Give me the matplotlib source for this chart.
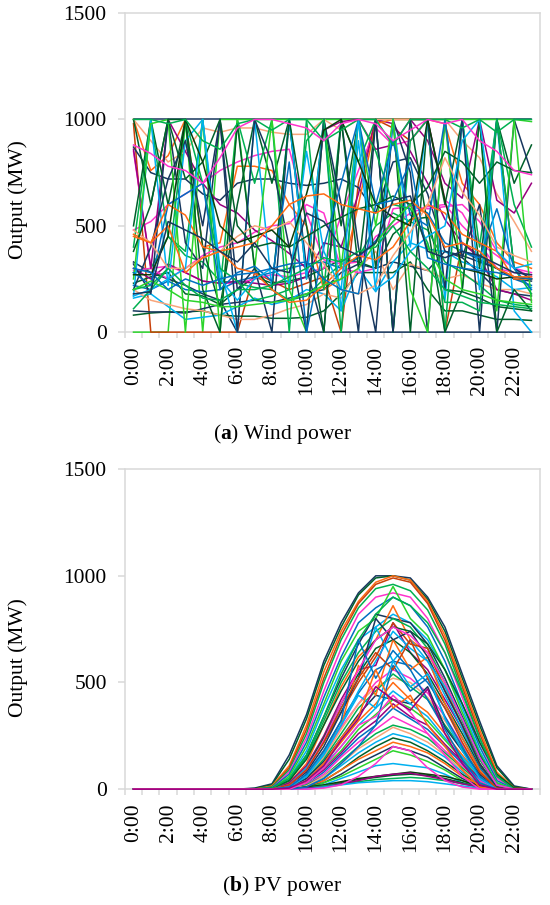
import numpy as np
import matplotlib.pyplot as plt

plt.rcParams['font.family'] = ['Liberation Serif', 'DejaVu Serif']
plt.rcParams['mathtext.fontset'] = 'custom'
plt.rcParams['mathtext.rm'] = 'Liberation Serif'
plt.rcParams['mathtext.bf'] = 'Liberation Serif:bold'

hours = [f'{h}:00' for h in range(24)]

# wind power output per scenario (MW), hours 0..23
wind = [
    [1000, 1000, 1000, 1000, 1000, 1000, 1000, 1000, 1000, 1000, 1000, 1000, 1000, 1000, 1000, 1000, 1000, 1000, 1000, 1000, 1000, 1000, 1000, 1000],
    [0, 0, 0, 1000, 0, 1000, 1000, 1000, 1000, 1000, 1000, 1000, 1000, 1000, 1000, 1000, 1000, 1000, 1000, 1000, 1000, 1000, 1000, 990],
    [980, 0, 0, 0, 0, 0, 0, 280, 240, 200, 230, 260, 0, 700, 1000, 960, 900, 1000, 0, 420, 360, 300, 260, 250],
    [330, 280, 250, 220, 180, 150, 0, 0, 0, 0, 0, 0, 0, 0, 0, 0, 0, 0, 0, 0, 0, 0, 0, 0],
    [80, 90, 95, 95, 100, 80, 75, 75, 65, 65, 70, 100, 180, 280, 280, 280, 330, 200, 100, 100, 80, 60, 60, 55],
    [100, 95, 95, 90, 110, 130, 140, 150, 140, 160, 180, 200, 280, 320, 300, 330, 310, 290, 380, 350, 280, 200, 180, 170],
    [160, 180, 120, 60, 70, 80, 120, 160, 130, 150, 200, 180, 100, 300, 190, 330, 420, 390, 380, 330, 300, 260, 200, 210],
    [200, 150, 130, 110, 100, 80, 60, 60, 80, 110, 130, 180, 160, 300, 380, 200, 320, 290, 250, 270, 230, 200, 200, 180],
    [230, 260, 280, 180, 170, 130, 200, 260, 230, 240, 260, 300, 340, 330, 300, 460, 530, 540, 200, 190, 160, 120, 110, 100],
    [280, 300, 450, 360, 330, 240, 230, 210, 200, 150, 170, 250, 320, 350, 500, 560, 520, 480, 330, 280, 220, 150, 130, 120],
    [290, 300, 310, 280, 240, 230, 230, 250, 270, 260, 280, 300, 550, 760, 960, 880, 900, 1000, 620, 560, 420, 300, 280, 270],
    [300, 250, 320, 280, 240, 230, 240, 230, 220, 230, 260, 420, 400, 650, 1000, 980, 850, 700, 530, 420, 350, 200, 180, 150],
    [220, 200, 240, 200, 190, 200, 240, 260, 280, 300, 320, 330, 300, 350, 430, 520, 600, 560, 420, 380, 340, 300, 250, 220],
    [870, 750, 720, 720, 650, 620, 700, 720, 720, 700, 690, 700, 720, 680, 560, 800, 820, 650, 380, 360, 330, 300, 250, 240],
    [1000, 760, 830, 1000, 400, 420, 780, 780, 760, 600, 500, 200, 250, 600, 980, 1000, 1000, 1000, 980, 700, 600, 420, 330, 300],
    [1000, 900, 800, 850, 960, 940, 960, 960, 940, 930, 930, 1000, 950, 1000, 1000, 1000, 1000, 1000, 1000, 900, 820, 650, 520, 380],
    [850, 300, 250, 300, 360, 400, 420, 470, 500, 510, 600, 560, 300, 280, 300, 580, 590, 580, 590, 600, 520, 380, 300, 280],
    [480, 520, 600, 650, 700, 760, 800, 830, 850, 860, 560, 340, 320, 330, 450, 500, 560, 590, 600, 500, 420, 360, 300, 260],
    [860, 300, 1000, 850, 700, 600, 560, 480, 430, 370, 300, 950, 990, 1000, 860, 880, 1000, 900, 700, 630, 1000, 620, 560, 700],
    [500, 1000, 600, 1000, 400, 120, 600, 1000, 700, 1000, 250, 1000, 500, 1000, 300, 1000, 0, 1000, 600, 1000, 300, 1000, 700, 880],
    [400, 1000, 450, 380, 1000, 200, 1000, 700, 1000, 0, 1000, 200, 1000, 800, 1000, 0, 900, 1000, 0, 1000, 400, 1000, 600, 400],
    [320, 180, 1000, 420, 300, 1000, 200, 300, 0, 1000, 300, 0, 1000, 400, 0, 1000, 750, 0, 1000, 350, 600, 0, 1000, 750],
    [170, 1000, 220, 900, 1000, 300, 0, 1000, 200, 1000, 250, 1000, 100, 900, 200, 1000, 400, 1000, 150, 1000, 200, 1000, 100, 0],
    [250, 980, 1000, 0, 1000, 0, 1000, 300, 1000, 200, 0, 1000, 300, 1000, 500, 1000, 200, 0, 1000, 200, 1000, 100, 1000, 140],
    [1000, 600, 1000, 1000, 200, 0, 980, 300, 200, 1000, 500, 0, 1000, 300, 1000, 0, 1000, 500, 0, 200, 1000, 0, 200, 100],
    [200, 400, 720, 900, 500, 1000, 0, 1000, 800, 400, 0, 1000, 600, 0, 1000, 0, 1000, 1000, 200, 1000, 0, 1000, 300, 250],
    [200, 220, 300, 1000, 700, 300, 240, 150, 170, 200, 900, 1000, 0, 1000, 850, 600, 580, 420, 140, 140, 100, 1000, 300, 180],
    [280, 220, 600, 650, 700, 200, 280, 310, 240, 800, 0, 400, 700, 1000, 600, 900, 550, 500, 1000, 380, 350, 580, 300, 200],
    [460, 420, 600, 550, 400, 380, 300, 280, 200, 140, 150, 220, 300, 360, 340, 400, 520, 600, 560, 460, 420, 380, 250, 250],
    [480, 420, 300, 300, 350, 380, 450, 500, 480, 520, 420, 320, 200, 180, 220, 360, 470, 600, 820, 660, 550, 400, 360, 330],
    [380, 600, 1000, 720, 800, 1000, 500, 400, 420, 400, 450, 500, 540, 580, 600, 640, 600, 680, 850, 800, 700, 800, 760, 750],
    [170, 200, 250, 300, 1000, 250, 150, 250, 300, 230, 850, 380, 200, 1000, 200, 260, 380, 450, 500, 900, 1000, 380, 300, 320],
    [270, 270, 450, 1000, 800, 500, 420, 450, 480, 400, 650, 950, 1000, 800, 600, 540, 500, 1000, 620, 300, 280, 250, 260, 250],
    [110, 200, 300, 220, 160, 150, 200, 200, 220, 260, 300, 350, 330, 380, 400, 500, 380, 300, 200, 170, 140, 130, 120, 110],
    [200, 240, 200, 150, 140, 120, 120, 130, 140, 150, 180, 220, 250, 300, 420, 520, 600, 400, 250, 200, 180, 150, 140, 130],
    [300, 280, 200, 250, 220, 250, 270, 280, 300, 320, 330, 250, 200, 180, 600, 620, 800, 350, 320, 300, 290, 280, 260, 250],
    [450, 420, 500, 280, 350, 380, 400, 420, 500, 600, 640, 650, 600, 580, 560, 600, 620, 550, 400, 420, 380, 300, 260, 260],
    [180, 190, 520, 480, 440, 380, 330, 420, 300, 280, 560, 520, 400, 360, 420, 620, 640, 380, 350, 380, 360, 320, 280, 270],
    [1000, 1000, 980, 1000, 900, 860, 980, 1000, 950, 1000, 1000, 900, 950, 1000, 1000, 880, 1000, 1000, 1000, 960, 1000, 940, 1000, 1000],
    [880, 840, 780, 760, 700, 820, 960, 1000, 1000, 980, 960, 900, 980, 1000, 980, 900, 950, 1000, 980, 1000, 900, 850, 760, 740],
]

# PV output per scenario (MW), hours 0..23
pv = [
    [0, 0, 0, 0, 0, 0, 0, 5, 25, 160, 350, 600, 780, 920, 1000, 1000, 990, 900, 760, 540, 320, 110, 15, 0],
    [0, 0, 0, 0, 0, 0, 0, 3, 20, 140, 330, 580, 760, 910, 990, 1000, 980, 890, 740, 520, 300, 100, 10, 0],
    [0, 0, 0, 0, 0, 0, 0, 0, 15, 110, 300, 550, 740, 880, 970, 1000, 980, 880, 720, 500, 280, 80, 5, 0],
    [0, 0, 0, 0, 0, 0, 0, 0, 10, 100, 280, 520, 720, 870, 960, 990, 970, 870, 700, 480, 260, 70, 5, 0],
    [0, 0, 0, 0, 0, 0, 0, 0, 10, 90, 260, 500, 700, 850, 940, 960, 930, 840, 680, 460, 240, 60, 0, 0],
    [0, 0, 0, 0, 0, 0, 0, 0, 5, 80, 240, 460, 660, 820, 900, 920, 900, 800, 640, 430, 220, 50, 0, 0],
    [0, 0, 0, 0, 0, 0, 0, 0, 5, 70, 220, 430, 620, 780, 850, 900, 860, 760, 600, 400, 200, 40, 0, 0],
    [0, 0, 0, 0, 0, 0, 0, 0, 0, 50, 180, 380, 560, 700, 760, 820, 780, 700, 560, 380, 180, 30, 0, 0],
    [0, 0, 0, 0, 0, 0, 0, 0, 0, 60, 200, 400, 600, 740, 800, 950, 800, 720, 560, 360, 170, 30, 0, 0],
    [0, 0, 0, 0, 0, 0, 0, 0, 0, 40, 160, 340, 520, 680, 820, 800, 780, 680, 520, 340, 160, 20, 0, 0],
    [0, 0, 0, 0, 0, 0, 0, 0, 0, 30, 120, 300, 480, 620, 700, 860, 700, 640, 480, 300, 140, 20, 0, 0],
    [0, 0, 0, 0, 0, 0, 0, 0, 0, 30, 110, 250, 420, 560, 580, 780, 640, 560, 420, 280, 120, 10, 0, 0],
    [0, 0, 0, 0, 0, 0, 0, 0, 0, 40, 150, 320, 500, 640, 740, 800, 760, 660, 500, 320, 140, 20, 0, 0],
    [0, 0, 0, 0, 0, 0, 0, 0, 0, 20, 100, 240, 400, 540, 660, 700, 640, 540, 400, 260, 110, 10, 0, 0],
    [0, 0, 0, 0, 0, 0, 0, 0, 0, 20, 100, 220, 380, 520, 760, 600, 700, 600, 440, 280, 120, 10, 0, 0],
    [0, 0, 0, 0, 0, 0, 0, 0, 0, 20, 90, 220, 360, 500, 620, 780, 680, 660, 460, 300, 120, 10, 0, 0],
    [0, 0, 0, 0, 0, 0, 0, 0, 0, 10, 70, 180, 320, 450, 560, 600, 580, 500, 380, 240, 100, 5, 0, 0],
    [0, 0, 0, 0, 0, 0, 0, 0, 0, 10, 60, 160, 290, 400, 500, 560, 520, 450, 340, 210, 80, 5, 0, 0],
    [0, 0, 0, 0, 0, 0, 0, 0, 0, 10, 60, 150, 280, 400, 480, 520, 500, 430, 320, 200, 80, 5, 0, 0],
    [0, 0, 0, 0, 0, 0, 0, 0, 0, 10, 50, 140, 260, 380, 460, 540, 480, 420, 300, 190, 70, 0, 0, 0],
    [0, 0, 0, 0, 0, 0, 0, 0, 0, 10, 50, 130, 240, 350, 440, 420, 400, 480, 290, 180, 70, 0, 0, 0],
    [0, 0, 0, 0, 0, 0, 0, 0, 0, 5, 40, 120, 220, 320, 400, 500, 420, 360, 260, 160, 60, 0, 0, 0],
    [0, 0, 0, 0, 0, 0, 0, 0, 0, 5, 40, 110, 200, 300, 380, 460, 400, 340, 240, 150, 60, 0, 0, 0],
    [0, 0, 0, 0, 0, 0, 0, 0, 0, 5, 30, 100, 180, 280, 350, 420, 380, 320, 230, 140, 50, 0, 0, 0],
    [0, 0, 0, 0, 0, 0, 0, 0, 0, 5, 30, 90, 170, 260, 320, 400, 340, 300, 210, 130, 50, 0, 0, 0],
    [0, 0, 0, 0, 0, 0, 0, 0, 0, 0, 20, 80, 160, 240, 300, 380, 330, 280, 200, 120, 40, 0, 0, 0],
    [0, 0, 0, 0, 0, 0, 0, 0, 0, 0, 20, 70, 150, 220, 280, 340, 300, 260, 180, 110, 40, 0, 0, 0],
    [0, 0, 0, 0, 0, 0, 0, 0, 0, 0, 20, 60, 130, 200, 260, 300, 280, 240, 170, 100, 30, 0, 0, 0],
    [0, 0, 0, 0, 0, 0, 0, 0, 0, 0, 15, 60, 120, 190, 240, 290, 260, 220, 160, 90, 30, 0, 0, 0],
    [0, 0, 0, 0, 0, 0, 0, 0, 0, 0, 10, 50, 110, 170, 220, 260, 240, 200, 150, 80, 25, 0, 0, 0],
    [0, 0, 0, 0, 0, 0, 0, 0, 0, 0, 10, 40, 90, 150, 200, 240, 220, 180, 130, 70, 20, 0, 0, 0],
    [0, 0, 0, 0, 0, 0, 0, 0, 0, 0, 10, 40, 90, 140, 180, 220, 200, 170, 120, 60, 20, 0, 0, 0],
    [0, 0, 0, 0, 0, 0, 0, 0, 0, 0, 10, 30, 70, 120, 160, 200, 180, 150, 100, 50, 15, 0, 0, 0],
    [0, 0, 0, 0, 0, 0, 0, 0, 0, 0, 5, 30, 60, 100, 140, 180, 160, 130, 90, 40, 10, 0, 0, 0],
    [0, 0, 0, 0, 0, 0, 0, 0, 0, 0, 5, 20, 50, 80, 110, 120, 110, 100, 70, 30, 10, 0, 0, 0],
    [0, 0, 0, 0, 0, 0, 0, 0, 0, 0, 5, 15, 30, 45, 55, 65, 70, 65, 50, 30, 10, 0, 0, 0],
    [0, 0, 0, 0, 0, 0, 0, 0, 0, 0, 10, 20, 35, 50, 60, 70, 80, 70, 60, 40, 15, 0, 0, 0],
    [0, 0, 0, 0, 0, 0, 0, 0, 0, 0, 5, 15, 25, 35, 45, 50, 55, 50, 40, 25, 10, 0, 0, 0],
    [0, 0, 0, 0, 0, 0, 0, 0, 0, 0, 5, 10, 25, 40, 60, 70, 75, 60, 45, 25, 10, 0, 0, 0],
    [0, 0, 0, 0, 0, 0, 0, 0, 0, 0, 0, 10, 20, 30, 35, 40, 40, 35, 25, 15, 5, 0, 0, 0],
    [0, 0, 0, 0, 0, 0, 0, 0, 0, 0, 0, 5, 20, 60, 120, 200, 180, 100, 40, 10, 0, 0, 0, 0],
    [0, 0, 0, 0, 0, 0, 0, 0, 0, 0, 10, 50, 120, 200, 300, 580, 460, 520, 340, 200, 60, 0, 0, 0],
    [0, 0, 0, 0, 0, 0, 0, 0, 0, 10, 60, 180, 300, 580, 440, 700, 560, 620, 400, 240, 90, 0, 0, 0],
    [0, 0, 0, 0, 0, 0, 0, 0, 5, 40, 140, 300, 460, 600, 700, 760, 740, 680, 560, 400, 220, 70, 5, 0],
    [0, 0, 0, 0, 0, 0, 0, 0, 5, 50, 160, 340, 540, 700, 820, 900, 860, 780, 640, 450, 240, 60, 0, 0],
    [0, 0, 0, 0, 0, 0, 0, 0, 0, 20, 80, 200, 360, 520, 800, 700, 740, 620, 460, 300, 120, 10, 0, 0],
    [0, 0, 0, 0, 0, 0, 0, 0, 0, 10, 60, 160, 300, 460, 600, 740, 660, 600, 480, 330, 150, 20, 0, 0],
    [0, 0, 0, 0, 0, 0, 0, 0, 0, 20, 90, 230, 400, 560, 700, 760, 720, 640, 500, 330, 150, 20, 0, 0],
    [0, 0, 0, 0, 0, 0, 0, 0, 0, 20, 90, 220, 380, 520, 640, 560, 700, 520, 380, 220, 80, 5, 0, 0],
    [0, 0, 0, 0, 0, 0, 0, 0, 0, 10, 60, 170, 300, 440, 380, 600, 480, 540, 330, 180, 50, 0, 0, 0],
    [0, 0, 0, 0, 0, 0, 0, 0, 0, 10, 70, 180, 320, 700, 520, 650, 560, 420, 280, 140, 30, 0, 0, 0],
    [0, 0, 0, 0, 0, 0, 0, 0, 0, 0, 40, 120, 240, 340, 560, 380, 440, 300, 200, 90, 10, 0, 0, 0],
    [0, 0, 0, 0, 0, 0, 0, 0, 0, 0, 30, 100, 200, 300, 340, 440, 360, 260, 160, 60, 0, 0, 0, 0],
    [0, 0, 0, 0, 0, 0, 0, 0, 0, 5, 40, 110, 230, 330, 480, 420, 370, 470, 260, 120, 20, 0, 0, 0],
]

navy = '#17375E'
dkgreen = '#00602B'
vdkgreen = '#0B3D0B'
green = '#00B050'
ltgreen = '#2BD42B'
cyan = '#00B0F0'
blue = '#0070C0'
orange = '#FF6A13'
salmon = '#F8A57B'
magenta = '#FF33CC'
purple = '#99007F'
brown = '#C8400A'

wind_colors = [navy, ltgreen, brown, navy, dkgreen, navy, cyan, salmon, dkgreen, green,
               magenta, purple, blue, navy, orange, salmon, magenta, magenta, purple, dkgreen,
               green, navy, cyan, ltgreen, dkgreen, navy, green, blue, orange, salmon,
               dkgreen, cyan, vdkgreen, green, ltgreen, blue, orange, navy, green, magenta]
pv_colors = [navy, dkgreen, orange, brown, green, magenta, blue, cyan, ltgreen, navy,
             orange, purple, green, dkgreen, cyan, brown, blue, magenta, salmon, green,
             navy, orange, cyan, ltgreen, purple, blue, magenta, green, salmon, cyan,
             dkgreen, orange, navy, ltgreen, cyan, dkgreen, vdkgreen, green, purple, cyan,
             magenta, blue, orange, dkgreen, green, navy, cyan, magenta,
             brown, cyan, blue, orange, magenta, purple]

fig = plt.figure(figsize=(5.5, 9.05), dpi=100)
ax1 = fig.add_axes([0.227, 0.633, 0.755, 0.3525])
ax2 = fig.add_axes([0.227, 0.128, 0.755, 0.3536])

x = np.arange(24)
for s, c in zip(wind, wind_colors):
    ax1.plot(x, s, color=c, lw=1.1, clip_on=False, zorder=3)
for s, c in zip(pv, pv_colors):
    ax2.plot(x, s, color=c, lw=1.1, clip_on=False, zorder=3)

grey = '#D9D9D9'
for ax in (ax1, ax2):
    ax.set_xlim(-0.5, 23.5)
    ax.set_ylim(0, 1500)
    ax.set_yticks([0, 500, 1000, 1500])
    ax.set_xticks(x[::2])
    ax.set_xticklabels(hours[::2], rotation=90)
    ax.set_xticks(np.arange(25) - 0.5, minor=True)
    for sp in ax.spines.values():
        sp.set_color(grey)
        sp.set_linewidth(1.1)
    ax.tick_params(axis='y', length=5, width=1.1, color=grey, pad=8, labelsize=15.5)
    ax.tick_params(axis='x', which='major', length=0, pad=10, labelsize=15.5)
    ax.tick_params(axis='x', which='minor', length=4, width=1.1, color=grey)

fig.text(18 / 550, 1 - 200 / 905, 'Output (MW)', rotation=90, ha='center', va='center', fontsize=15.5)
fig.text(18 / 550, 1 - 658 / 905, 'Output (MW)', rotation=90, ha='center', va='center', fontsize=15.5)
fig.text(282 / 550, 1 - 434 / 905, r'($\mathbf{a}$) Wind power', ha='center', va='center', fontsize=15.5)
fig.text(282 / 550, 1 - 886 / 905, r'($\mathbf{b}$) PV power', ha='center', va='center', fontsize=15.5)

fig.savefig('out.png', dpi=100)
